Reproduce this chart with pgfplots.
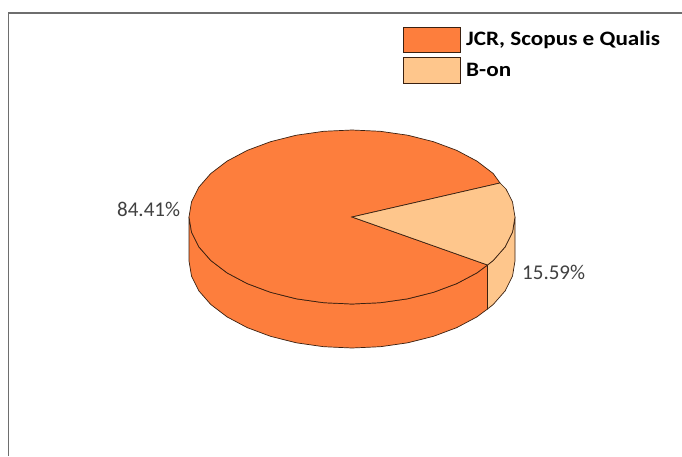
\documentclass[border=0pt]{standalone}
\usepackage{fontspec}
\setmainfont{Carlito}
\newfontfamily\legfont[FakeStretch=1.13]{Carlito}
\usepackage{pgfplots}
\pgfplotsset{compat=1.18}
\definecolor{mainor}{HTML}{FD7E3D}
\definecolor{lighto}{HTML}{FEC68C}
\definecolor{edge}{HTML}{3A2010}
\definecolor{frame}{HTML}{6E6E6E}
\definecolor{lab}{HTML}{404040}
\begin{document}
\begin{tikzpicture}
\begin{axis}[
  scale only axis, width=682pt, height=456pt,
  xmin=0, xmax=682, ymin=0, ymax=456, y dir=reverse,
  hide axis, clip=true,
]
% frame
\addplot[frame, line width=1.3pt] coordinates {(8.5,456) (8.5,13) (682,13)};
% side wall, light slice
\addplot[fill=lighto, draw=edge, line width=0.7pt] coordinates {
(515,217)(512.5,232.1)(505.2,246.8)(493.2,260.5)(487.5,265)
(487.5,309)(493.2,304.5)(505.2,290.8)(512.5,276.1)(515,261)} -- cycle;
% side wall, main slice
\addplot[fill=mainor, draw=edge, line width=0.7pt] coordinates {
(487.5,265)(476.9,272.9)(456.8,283.6)(433.5,292.3)(407.7,298.8)(380.3,302.7)(352,304)
(323.7,302.7)(296.3,298.8)(270.5,292.3)(247.2,283.6)(227.1,272.9)(210.8,260.5)(198.8,246.8)(191.5,232.1)(189,217)
(189,261)(191.5,276.1)(198.8,290.8)(210.8,304.5)(227.1,316.9)(247.2,327.6)(270.5,336.3)(296.3,342.8)(323.7,346.7)(352,348)
(380.3,346.7)(407.7,342.8)(433.5,336.3)(456.8,327.6)(476.9,316.9)(487.5,309)} -- cycle;
% top, main slice
\addplot[fill=mainor, draw=edge, line width=0.7pt] coordinates {
(352,217)(487.5,265)(476.9,272.9)(456.8,283.6)(433.5,292.3)(407.7,298.8)(380.3,302.7)(352,304)
(323.7,302.7)(296.3,298.8)(270.5,292.3)(247.2,283.6)(227.1,272.9)(210.8,260.5)(198.8,246.8)(191.5,232.1)(189,217)
(191.5,201.9)(198.8,187.2)(210.8,173.5)(227.1,161.1)(247.2,150.4)(270.5,141.7)(296.3,135.2)(323.7,131.3)(352,130)
(380.3,131.3)(407.7,135.2)(433.5,141.7)(456.8,150.4)(476.9,161.1)(493.2,173.5)(500,183)} -- cycle;
% top, light slice
\addplot[fill=lighto, draw=edge, line width=0.7pt] coordinates {
(352,217)(500,183)(506,189)(512.5,201.9)(515,217)(512.5,232.1)(505.2,246.8)(493.2,260.5)(487.5,265)} -- cycle;
% legend keys
\addplot[fill=mainor, draw=edge, line width=0.7pt] coordinates {(403.5,27)(460,27)(460,52.5)(403.5,52.5)} -- cycle;
\addplot[fill=lighto, draw=edge, line width=0.7pt] coordinates {(403.5,57)(460,57)(460,83)(403.5,83)} -- cycle;
\node[anchor=west, inner sep=0pt, font=\legfont\fontsize{20.5}{22}\selectfont\bfseries] at (axis cs:466,39.5) {JCR, Scopus e Qualis};
\node[anchor=west, inner sep=0pt, font=\legfont\fontsize{20.5}{22}\selectfont\bfseries] at (axis cs:466,70) {B-on};
\node[anchor=west, inner sep=0pt, text=lab, font=\fontsize{21}{23}\selectfont] at (axis cs:117,209) {84.41\%};
\node[anchor=west, inner sep=0pt, text=lab, font=\fontsize{21}{23}\selectfont] at (axis cs:522,272) {15.59\%};
\end{axis}
\path[use as bounding box] (current axis.south west) rectangle (current axis.north east);
\end{tikzpicture}
\end{document}
